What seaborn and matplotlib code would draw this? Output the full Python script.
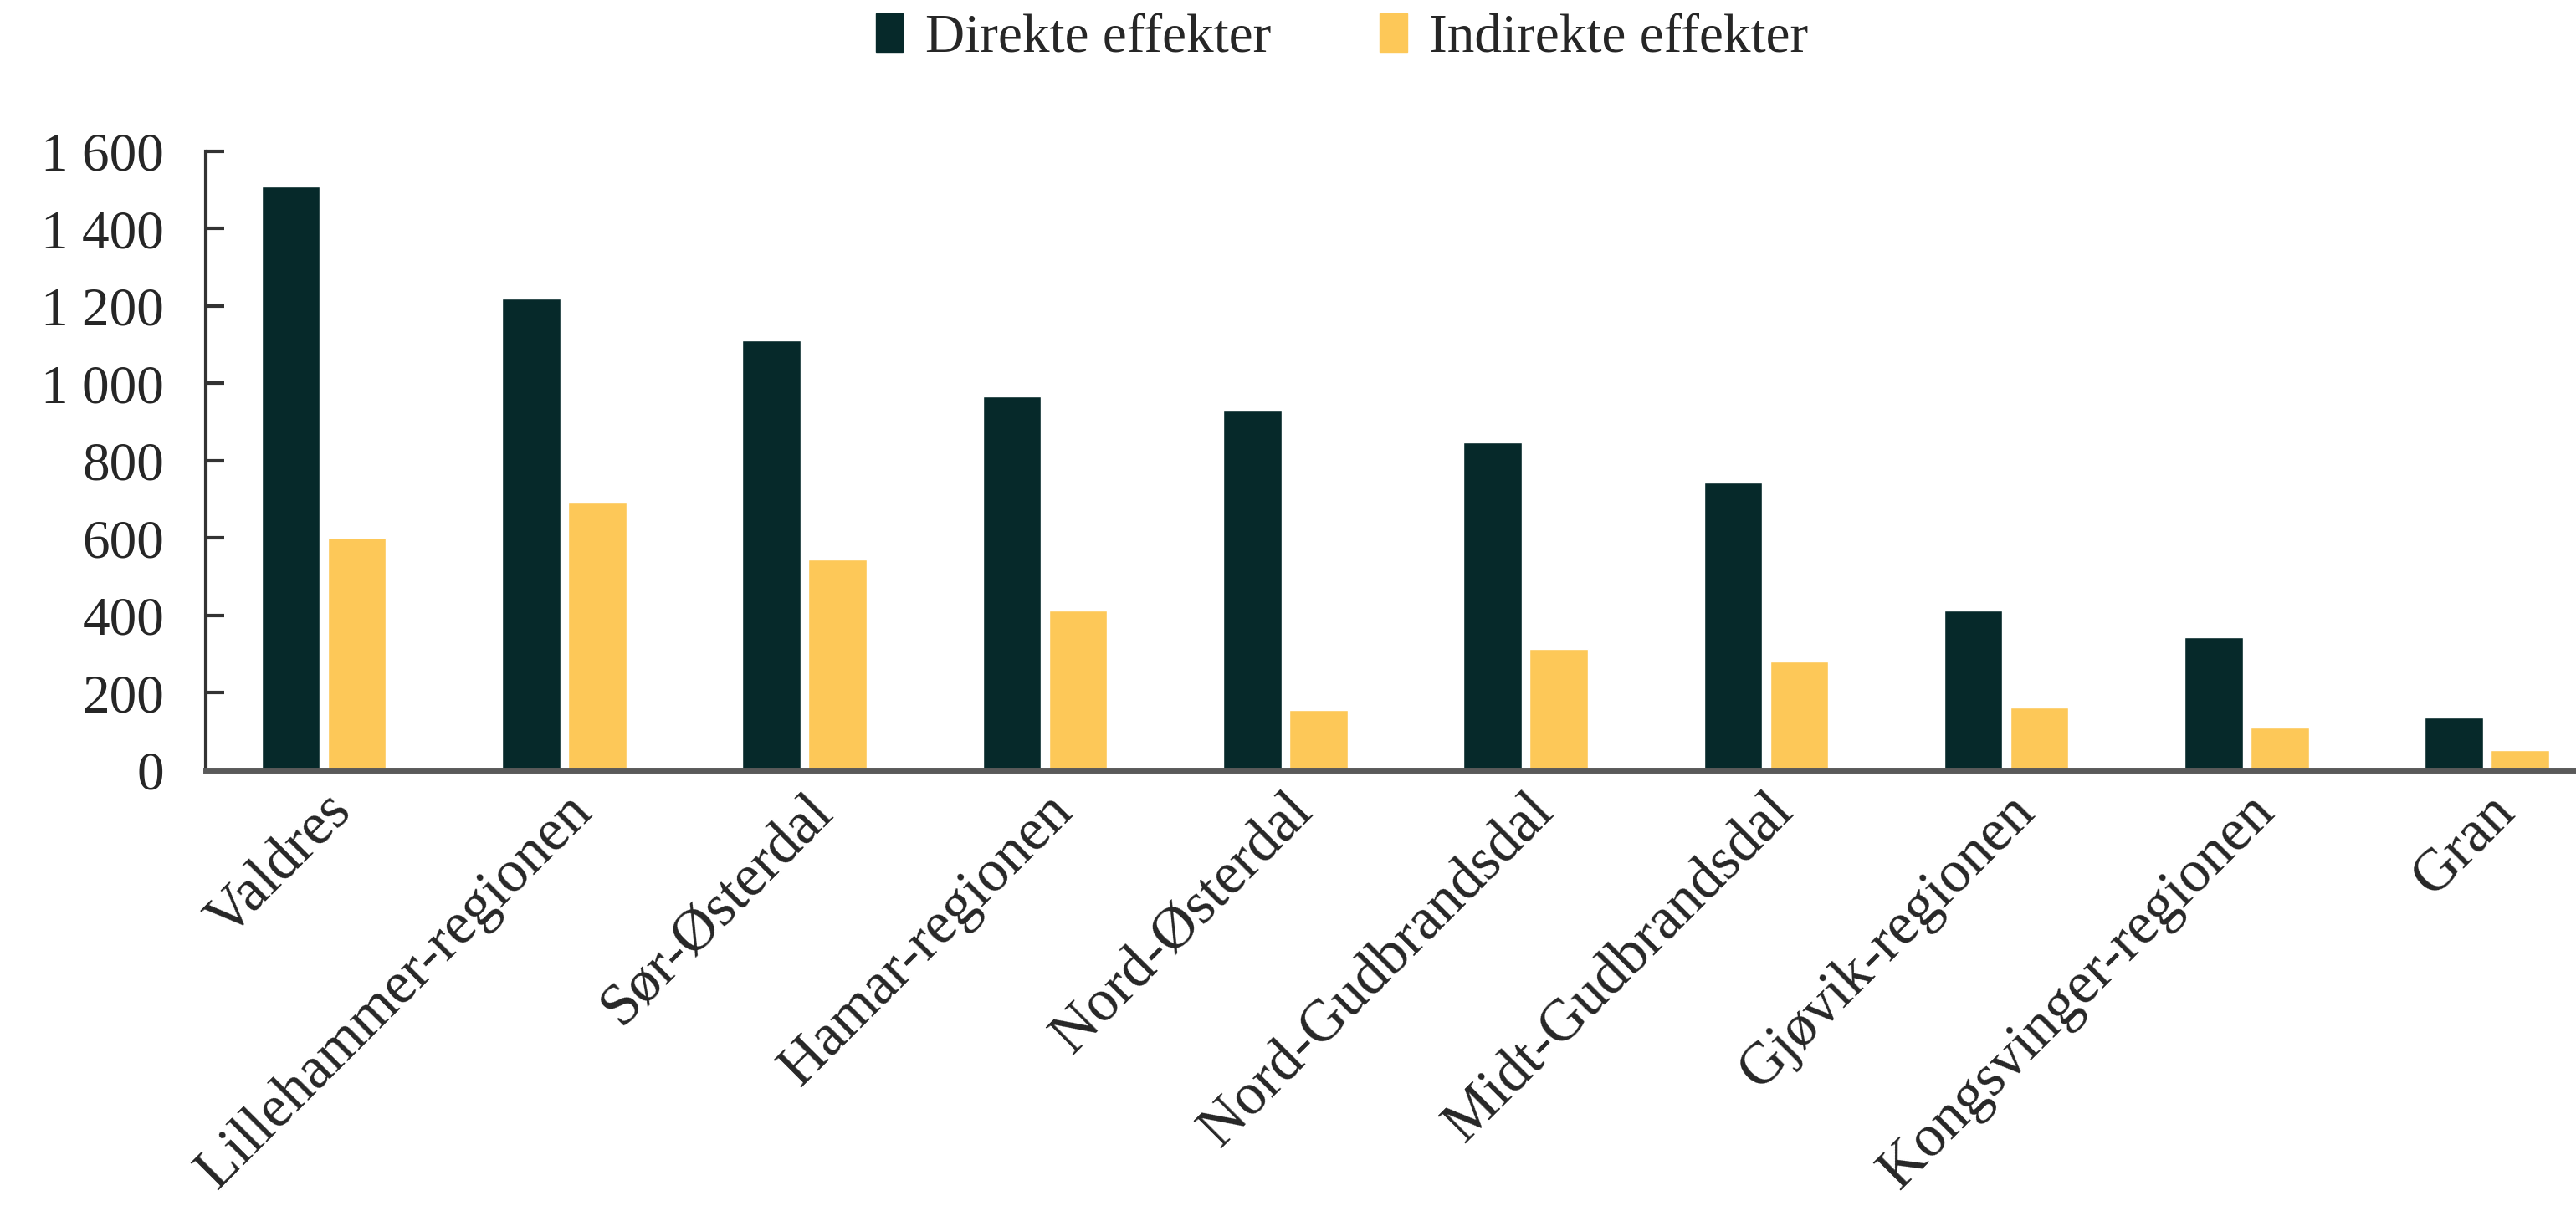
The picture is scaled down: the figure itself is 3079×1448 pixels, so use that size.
import pandas as pd
import matplotlib.pyplot as plt
import matplotlib.ticker as mticker
import seaborn as sns

# values
regions = ['Valdres', 'Lillehammer-regionen', 'Sør-Østerdal', 'Hamar-regionen',
           'Nord-Østerdal', 'Nord-Gudbrandsdal', 'Midt-Gudbrandsdal',
           'Gjøvik-regionen', 'Kongsvinger-regionen', 'Gran']
direkte = [1510, 1220, 1112, 966, 930, 848, 743, 412, 344, 137]
indirekte = [602, 692, 544, 412, 155, 314, 280, 162, 111, 52]
series = ['Direkte effekter', 'Indirekte effekter']

df = pd.DataFrame({
    'region': regions * 2,
    'verdi': direkte + indirekte,
    'serie': [series[0]] * len(regions) + [series[1]] * len(regions),
})

sns.set_style('white')
plt.rcParams['font.family'] = ['Liberation Serif', 'DejaVu Serif']

colors = ['#06292A', '#FDC858']

fig = plt.figure(figsize=(30.79, 14.48), dpi=100)
ax = fig.add_axes([0.080, 0.364, 0.920, 0.511])

sns.barplot(data=df, x='region', y='verdi', hue='serie', order=regions,
            hue_order=series, palette=colors, width=0.55, gap=0.12,
            saturation=1, ax=ax, legend=False)

ax.set_xlim(-0.49, 9.37)
ax.set_ylim(0, 1600)
ax.set_yticks(range(0, 1601, 200))
ax.yaxis.set_major_formatter(mticker.FuncFormatter(lambda v, p: f'{int(v):,}'.replace(',', ' ')))
ax.set_xlabel('')
ax.set_ylabel('')

for s in ['top', 'right']:
    ax.spines[s].set_visible(False)
ax.spines['left'].set_color('#333333')
ax.spines['left'].set_linewidth(3)
ax.spines['bottom'].set_color('#5a5a5a')
ax.spines['bottom'].set_linewidth(5)

ax.tick_params(axis='y', direction='in', length=16, width=3, color='#333333',
               labelsize=47, pad=36, left=True)
ax.tick_params(axis='x', length=0, labelsize=51, pad=12)
for lab in ax.get_xticklabels():
    lab.set_rotation(45)
    lab.set_ha('right')
    lab.set_rotation_mode('anchor')

handles = [plt.Rectangle((0, 0), 1, 1, color=c) for c in colors]
fig.legend(handles, series, loc='center', bbox_to_anchor=(0.521, 0.968), ncol=2,
           frameon=False, fontsize=47, handlelength=0.5, handleheight=0.7,
           handletextpad=0.4, columnspacing=2.0)

fig.savefig('out.png', dpi=100)
